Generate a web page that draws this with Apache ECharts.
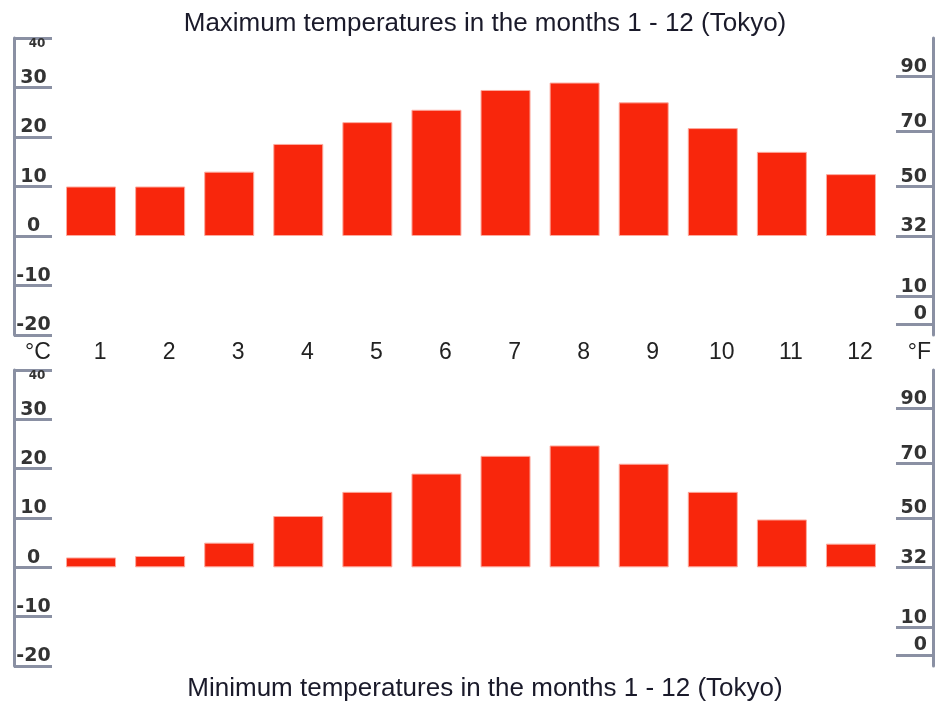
<!DOCTYPE html>
<html lang="en">

<head>
  <meta charset="UTF-8">
  <title>Tokyo temperatures</title>
  <style>
    body,
    html {
      margin: 0;
      padding: 0;
      background: #fff;
    }

    #chart {
      width: 935px;
      height: 701px;
    }
  </style>
</head>

<body>
  <div id="chart"></div>
  <script src="https://cdn.jsdelivr.net/npm/echarts@6/dist/echarts.min.js"></script>
  <script>
    var months = ['1', '2', '3', '4', '5', '6', '7', '8', '9', '10', '11', '12'];
    var maxTemps = [10, 10, 13, 18.6, 23, 25.5, 29.5, 31, 27, 21.8, 17, 12.5];
    var minTemps = [2, 2.3, 5, 10.4, 15.3, 19, 22.6, 24.7, 21, 15.3, 9.7, 4.8];
    var fahrenheitTicks = [0, 10, 32, 50, 70, 90];
    var celsiusMin = -20, celsiusMax = 40;

    var axisColor = '#8a90a3';
    var labelFont = 'DejaVu Sans';
    var textFont = 'Liberation Sans, Arial';

    // left celsius axis, right fahrenheit axis and a small axis for the top "40"
    function buildYAxes(gridIndex, withNames) {
      return [{
        type: 'value',
        gridIndex: gridIndex,
        position: 'left',
        offset: 42.5,
        min: celsiusMin,
        max: celsiusMax,
        interval: 10,
        name: withNames ? '°C' : '',
        nameLocation: 'start',
        nameGap: 6,
        nameTextStyle: {
          fontFamily: textFont,
          fontSize: 23,
          color: '#222',
          align: 'left',
          padding: [0, 0, 0, 11]
        },
        splitLine: { show: false },
        axisLine: { show: true, lineStyle: { color: axisColor, width: 3 } },
        axisTick: { show: true, inside: true, length: 38, lineStyle: { color: axisColor, width: 3 } },
        axisLabel: {
          inside: true,
          margin: 19.5,
          align: 'center',
          verticalAlign: 'bottom',
          fontFamily: labelFont,
          fontWeight: 'bold',
          fontSize: 19,
          color: '#333',
          formatter: function (v) {
            return v === celsiusMax ? '' : String(v);
          }
        }
      }, {
        type: 'value',
        gridIndex: gridIndex,
        position: 'right',
        offset: 47.5,
        min: celsiusMin * 1.8 + 32,
        max: celsiusMax * 1.8 + 32,
        name: withNames ? '°F' : '',
        nameLocation: 'start',
        nameGap: 6,
        nameTextStyle: {
          fontFamily: textFont,
          fontSize: 23,
          color: '#222',
          align: 'right',
          padding: [0, 2, 0, 0]
        },
        splitLine: { show: false },
        axisLine: { show: true, lineStyle: { color: axisColor, width: 3 } },
        axisTick: {
          show: true,
          inside: true,
          length: 37,
          customValues: fahrenheitTicks,
          lineStyle: { color: axisColor, width: 3 }
        },
        axisLabel: {
          inside: true,
          margin: 6,
          align: 'right',
          verticalAlign: 'bottom',
          customValues: fahrenheitTicks,
          fontFamily: labelFont,
          fontWeight: 'bold',
          fontSize: 19,
          color: '#333'
        }
      }, {
        type: 'value',
        gridIndex: gridIndex,
        position: 'left',
        offset: 42.5,
        min: celsiusMin,
        max: celsiusMax,
        splitLine: { show: false },
        axisLine: { show: false },
        axisTick: { show: false },
        axisLabel: {
          inside: true,
          margin: 23,
          align: 'center',
          verticalAlign: 'top',
          customValues: [celsiusMax],
          fontFamily: labelFont,
          fontWeight: 'bold',
          fontSize: 12,
          color: '#333'
        }
      }];
    }

    var barStyle = {
      color: '#f8260c',
      borderColor: '#fcaa9e',
      borderWidth: 1
    };

    var myChart = echarts.init(document.getElementById('chart'));
    var option = {
      backgroundColor: '#fff',
      animation: false,
      title: [{
        text: 'Maximum temperatures in the months 1 - 12 (Tokyo)',
        left: 480,
        top: 6,
        textAlign: 'center',
        textStyle: { fontFamily: textFont, fontSize: 26, fontWeight: 'normal', color: '#1a1a2a' }
      }, {
        text: 'Minimum temperatures in the months 1 - 12 (Tokyo)',
        left: 480,
        top: 671,
        textAlign: 'center',
        textStyle: { fontFamily: textFont, fontSize: 26, fontWeight: 'normal', color: '#1a1a2a' }
      }],
      grid: [
        { left: 56.5, right: 49.5, top: 38, height: 297 },
        { left: 56.5, right: 49.5, top: 370, height: 296 }
      ],
      xAxis: [{
        type: 'category',
        gridIndex: 0,
        data: months,
        axisLine: { show: false },
        axisTick: { show: false },
        axisLabel: {
          margin: 6,
          padding: [0, 0, 0, 18],
          fontFamily: textFont,
          fontSize: 23,
          color: '#222'
        }
      }, {
        type: 'category',
        gridIndex: 1,
        data: months,
        axisLine: { show: false },
        axisTick: { show: false },
        axisLabel: { show: false }
      }],
      yAxis: buildYAxes(0, true).concat(buildYAxes(1, false)),
      series: [{
        name: 'Maximum',
        type: 'bar',
        xAxisIndex: 0,
        yAxisIndex: 0,
        barWidth: 50,
        itemStyle: barStyle,
        data: maxTemps
      }, {
        name: 'Minimum',
        type: 'bar',
        xAxisIndex: 1,
        yAxisIndex: 3,
        barWidth: 50,
        itemStyle: barStyle,
        data: minTemps
      }]
    };
    myChart.setOption(option);
  </script>
</body>

</html>
